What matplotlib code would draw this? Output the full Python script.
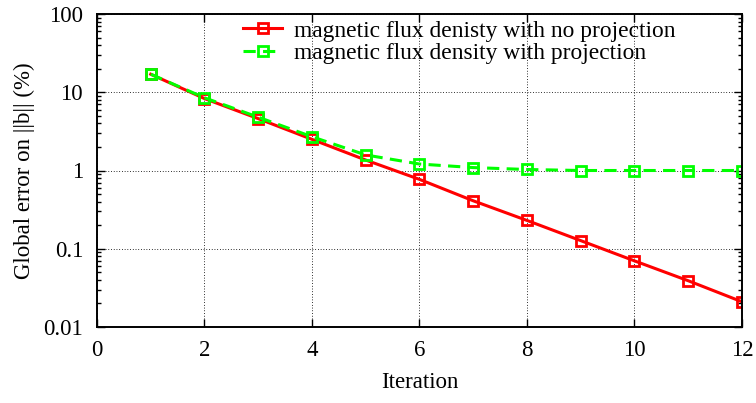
import matplotlib
matplotlib.use("Agg")
import matplotlib.pyplot as plt
from matplotlib.ticker import LogLocator, FixedLocator, FuncFormatter, NullFormatter

# data
iterations = [1, 2, 3, 4, 5, 6, 7, 8, 9, 10, 11, 12]
err_no_proj = [17, 8.3, 4.6, 2.5, 1.36, 0.77, 0.41, 0.23, 0.127, 0.070, 0.039, 0.021]
err_proj = [17, 8.5, 4.8, 2.7, 1.58, 1.21, 1.09, 1.03, 1.0, 1.0, 1.0, 1.0]
label_no_proj = "magnetic flux denisty with no projection"
label_proj = "magnetic flux density with projection"
x_ticks = [0, 2, 4, 6, 8, 10, 12]
y_ticks = [0.01, 0.1, 1, 10, 100]

plt.rcParams["font.family"] = ["Liberation Serif", "DejaVu Serif"]

fs = 16.5
fig = plt.figure(figsize=(7.56, 4.03), dpi=100)
ax = fig.add_axes([97 / 756, 76 / 403, 645 / 756, 313 / 403])

ax.plot(iterations, err_no_proj, color="#ff0000", lw=2.2, marker="s", ms=7,
        mfc="none", mec="#ff0000", mew=2.0, label=label_no_proj)
ax.plot(iterations, err_proj, color="#00ff00", lw=2.2, ls=(0, (4, 2.4)), marker="s", ms=7,
        mfc="none", mec="#00ff00", mew=2.0, label=label_proj)

ax.set_yscale("log")
ax.set_xlim(0, 12)
ax.set_ylim(0.01, 100)
ax.xaxis.set_major_locator(FixedLocator(x_ticks))
ax.yaxis.set_major_locator(FixedLocator(y_ticks))
ax.yaxis.set_major_formatter(FuncFormatter(lambda v, p: f"{v:g}"))
ax.yaxis.set_minor_locator(LogLocator(base=10, subs=range(2, 10), numticks=20))
ax.yaxis.set_minor_formatter(NullFormatter())

ax.tick_params(which="both", direction="in", top=True, right=True, labelsize=fs)
ax.tick_params(axis="y", pad=10)
ax.tick_params(axis="x", pad=9)
ax.tick_params(which="major", length=6, width=1)
ax.tick_params(which="minor", length=3, width=1)
for s in ax.spines.values():
    s.set_linewidth(1.4)

ax.grid(True, which="major", ls=(0, (0.8, 2)), color="black", lw=0.7)

ax.set_xlabel("Iteration", fontsize=fs, labelpad=8)
ax.set_ylabel("Global error on ||b|| (%)", fontsize=fs, labelpad=6)

leg = ax.legend(loc="upper right", bbox_to_anchor=(0.93, 1.048), frameon=False,
                prop={"size": 16.9}, handlelength=1.7, handletextpad=0.5, labelspacing=0.05)

fig.savefig("out.png", dpi=100)
